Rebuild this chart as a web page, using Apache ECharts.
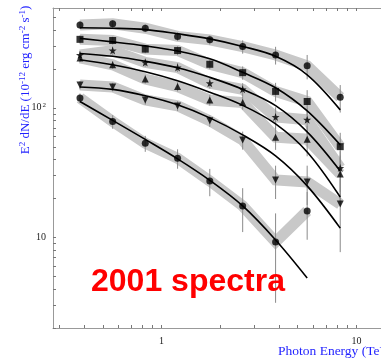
<!DOCTYPE html>
<html><head><meta charset="utf-8">
<script src="https://cdn.jsdelivr.net/npm/echarts@6/dist/echarts.min.js"></script>
<style>html,body{margin:0;padding:0;background:#fff}#c{width:381px;height:360px}</style>
</head><body><div id="c"></div>
<script>
// Photon energy bins (TeV)
const energy = [0.382, 0.562, 0.826, 1.21, 1.77, 2.61, 3.85, 5.59, 8.26];

// Measured E^2 dN/dE points (10^-12 erg cm^-2 s^-1), top to bottom
const s1Pts = [437, 445, 412, 356, 335, 297, 256, 211, 121];
const s2Pts = [338, 331, 284, 277, 217, 187, 134, 112, 50.2];
const s3Pts = [256, 277, 224, 205, 155, 139, 85, 81, 34.4];
const s4Pts = [243, 215, 167, 146, 115, 110, 59.4, 57.3, 30.9];
const s5Pts = [150, 145, 115, 103.6, 79.4, 56.6, 27.8, 26.8, 18.1];
const s6Pts = [119, 78.4, 53.3, 40.9, 27.3, 17.5, 9.23, 16.0];

// 1-sigma errors (same units)
const s1Err = [30, 30, 28, 28, 27, 35, 40, 45, 29];
const s2Err = [24, 23, 20, 22, 18, 22, 22, 25, 14];
const s3Err = [18, 20, 16, 16, 14, 16, 16, 18, 12];
const s4Err = [17, 15, 13, 12, 11, 13, 12, 15, 12];
const s5Err = [11, 11, 9, 9, 8, 9, 8, 9, 10.4];
const s6Err = [10, 9.4, 7.5, 7, 6.5, 6.5, 6.1, 6.4];

// Fitted curves read at the same energies
const s1Fit = [415, 412, 402, 373, 341, 298, 250, 180, 96.5];
const s2Fit = [344, 323, 301, 275, 239, 188, 143, 94.8, 51.8];
const s3Fit = [263, 250, 229, 204, 172, 139, 104, 65.3, 32.6];
const s4Fit = [235, 215, 190, 162, 132, 104.5, 75.2, 45.7, 20.5];
const s5Fit = [145, 139, 124, 105.5, 83.7, 61.9, 42.6, 25.0, 11.8];
const s6Fit = [112, 80.1, 57.1, 40.4, 27.6, 17.5, 9.57, 4.87];

// Axis ticks
const xTicks = [0.3, 0.4, 0.5, 0.6, 0.7, 0.8, 0.9, 1, 2, 3, 4, 5, 6, 7, 8, 9, 10, 20];
const xLabels = [1, 10];
const yTicks = [2, 3, 4, 5, 6, 7, 8, 9, 10, 20, 30, 40, 50, 60, 70, 80, 90, 100, 200, 300, 400, 500];
const yLabels = [10, 100];

const STAR = 'path://M0,-10L2.35,-3.24L9.51,-3.09L3.8,1.24L5.88,8.09L0,4L-5.88,8.09L-3.8,1.24L-9.51,-3.09L-2.35,-3.24Z';
const groups = [
  {pts: s1Pts, err: s1Err, fit: s1Fit, sym: 'circle', rot: 0, size: 7},
  {pts: s2Pts, err: s2Err, fit: s2Fit, sym: 'rect', rot: 0, size: 7},
  {pts: s3Pts, err: s3Err, fit: s3Fit, sym: STAR, rot: 0, size: 8},
  {pts: s4Pts, err: s4Err, fit: s4Fit, sym: 'triangle', rot: 0, size: 7},
  {pts: s5Pts, err: s5Err, fit: s5Fit, sym: 'triangle', rot: 180, size: 7},
  {pts: s6Pts, err: s6Err, fit: s6Fit, sym: 'circle', rot: 0, size: 7}
];

const YMIN = 2, YMAX = 590, XMIN = 0.2778, XMAX = 20;
const pair = (arr) => arr.map((v, i) => [energy[i], v]);

const series = [];
groups.forEach((g) => {
  series.push({type: 'line', data: pair(g.pts), symbol: 'none', z: 1, silent: true,
    lineStyle: {color: '#c8c8c8', width: 11, join: 'miter'}});
});
groups.forEach((g) => {
  series.push({type: 'custom', z: 2, silent: true, clip: true,
    data: g.pts.map((v, i) => [energy[i], Math.max(v - g.err[i], YMIN), v + g.err[i]]),
    renderItem: (params, api) => {
      const p1 = api.coord([api.value(0), api.value(1)]);
      const p2 = api.coord([api.value(0), api.value(2)]);
      return {type: 'line', shape: {x1: p1[0], y1: p1[1], x2: p2[0], y2: p2[1]},
        style: {stroke: '#8a8a8a', lineWidth: 1}};
    }});
});
groups.forEach((g) => {
  series.push({type: 'line', data: pair(g.fit), symbol: 'none', smooth: 0.35, z: 3, silent: true,
    lineStyle: {color: '#000', width: 1.6}});
});
groups.forEach((g) => {
  series.push({type: 'scatter', data: pair(g.pts), symbol: g.sym, symbolRotate: g.rot, symbolSize: g.size, z: 4, silent: true,
    itemStyle: {color: '#000'}});
});

const labelStyle = {fontFamily: 'Liberation Serif', fontSize: 10, color: '#222'};
const xAxisBase = (pos) => ({
  type: 'log', position: pos, min: XMIN, max: XMAX,
  axisLine: {show: true, lineStyle: {color: '#999', width: 1}},
  axisTick: {show: true, inside: true, length: 3, customValues: xTicks, lineStyle: {color: '#777'}},
  axisLabel: {show: pos === 'bottom', customValues: xLabels, margin: 8, ...labelStyle,
    formatter: (v) => String(Math.round(v))},
  splitLine: {show: false}, minorTick: {show: false}
});

const option = {
  animation: false,
  grid: {left: 53, top: 8, bottom: 32, right: -34.1, containLabel: false, outerBoundsMode: 'none'},
  xAxis: [xAxisBase('bottom'), xAxisBase('top')],
  yAxis: {
    type: 'log', min: YMIN, max: YMAX,
    axisLine: {show: true, lineStyle: {color: '#999', width: 1}},
    axisTick: {show: true, inside: true, length: 3, customValues: yTicks, lineStyle: {color: '#777'}},
    axisLabel: {customValues: yLabels, margin: 7, ...labelStyle,
      formatter: (v) => (Math.round(v) === 100 ? '10{s|2}' : '10'),
      rich: {s: {fontFamily: 'Liberation Serif', fontSize: 7, color: '#222', verticalAlign: 'top', padding: [0, 0, 6, 1]}}},
    splitLine: {show: false}
  },
  series: series,
  graphic: [
    {type: 'text', x: 91, y: 282, z: 10, silent: true,
      style: {text: '2001 spectra', fill: '#ff0000', font: 'bold 32px "Liberation Sans"', verticalAlign: 'middle'}},
    {type: 'text', x: 278, y: 351, z: 10, silent: true,
      style: {text: 'Photon Energy (TeV)', fill: '#1f1fff', font: '13.5px "Liberation Serif"', verticalAlign: 'middle'}},
    {type: 'text', x: 26, y: 80, rotation: Math.PI / 2, z: 10, silent: true,
      style: {
        text: 'E{s|2} dN/dE (10{s|-12} erg cm{s|-2} s{s|-1})',
        fill: '#1f1fff', font: '13px "Liberation Serif"', align: 'center', verticalAlign: 'middle',
        rich: {s: {fill: '#1f1fff', font: '9px "Liberation Serif"', padding: [0, 0, 7, 0]}}
      }}
  ]
};
const chart = echarts.init(document.getElementById('c'), null, {renderer: 'canvas'});
chart.setOption(option);
</script>
</body></html>
